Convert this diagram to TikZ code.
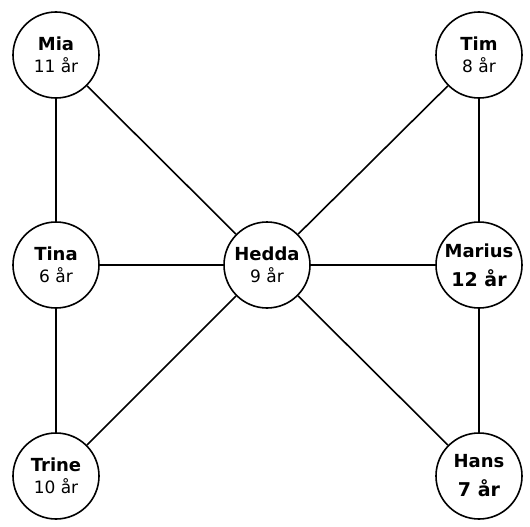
\documentclass[tikz,border=0pt]{standalone}
\usepackage{fontspec}
\setmainfont{DejaVu Sans}
\usepackage{tikz}
\usetikzlibrary{positioning}

\begin{document}
\begin{tikzpicture}[x=1pt,y=-1pt,
    person/.style={circle,draw,line width=1.6pt,minimum size=86pt,inner sep=0pt,
      align=center,font=\fontsize{17}{22}\selectfont},
    big/.style={font=\fontsize{17}{29}\selectfont},
    edge/.style={line width=1.6pt}]
  \useasboundingbox (0,0) rectangle (530,527);
  \node[person] (mia) at (56,55) {\textbf{\fontsize{18}{22}\selectfont Mia}\\11 år};
  \node[person] (tim) at (479,55) {\textbf{\fontsize{18}{22}\selectfont Tim}\\8 år};
  \node[person] (tina) at (56,265) {\textbf{\fontsize{18}{22}\selectfont Tina}\\6 år};
  \node[person] (hedda) at (267,265) {\textbf{\fontsize{18}{22}\selectfont Hedda}\\9 år};
  \node[person,big] (marius) at (479,265) {\textbf{\fontsize{18}{29}\selectfont Marius}\\\textbf{\fontsize{19}{29}\selectfont 12 år}};
  \node[person] (trine) at (56,476) {\textbf{\fontsize{18}{22}\selectfont Trine}\\10 år};
  \node[person,big] (hans) at (479,476) {\textbf{\fontsize{18}{29}\selectfont Hans}\\\textbf{\fontsize{19}{29}\selectfont 7 år}};
  \draw[edge] (mia) -- (tina);
  \draw[edge] (mia) -- (hedda);
  \draw[edge] (tim) -- (hedda);
  \draw[edge] (tim) -- (marius);
  \draw[edge] (tina) -- (hedda);
  \draw[edge] (hedda) -- (marius);
  \draw[edge] (tina) -- (trine);
  \draw[edge] (trine) -- (hedda);
  \draw[edge] (hedda) -- (hans);
  \draw[edge] (marius) -- (hans);
\end{tikzpicture}
\end{document}
